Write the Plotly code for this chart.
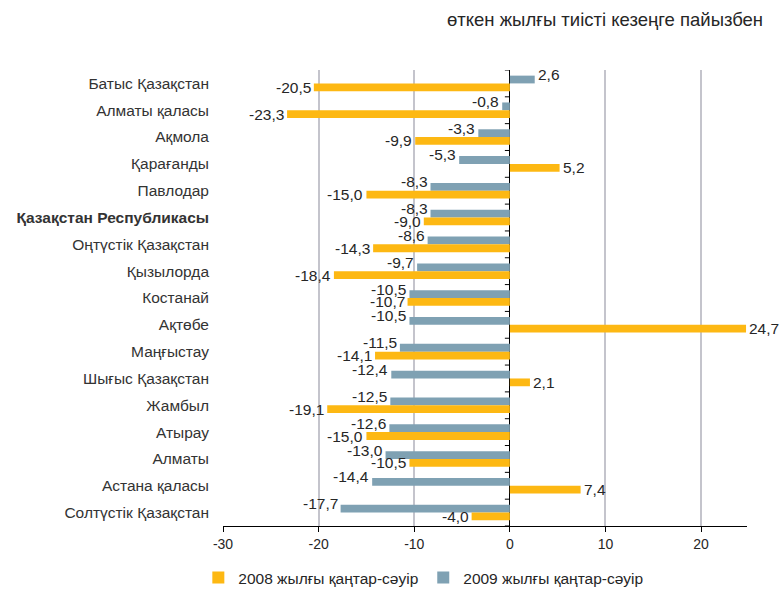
import plotly.graph_objects as go

categories = [
    "Батыс Қазақстан", "Алматы қаласы", "Ақмола", "Қарағанды", "Павлодар",
    "Қазақстан Республикасы", "Оңтүстік Қазақстан", "Қызылорда", "Костанай",
    "Ақтөбе", "Маңғыстау", "Шығыс Қазақстан", "Жамбыл", "Атырау", "Алматы",
    "Астана қаласы", "Солтүстік Қазақстан",
]
v2008 = [-20.5, -23.3, -9.9, 5.2, -15.0, -9.0, -14.3, -18.4, -10.7, 24.7,
         -14.1, 2.1, -19.1, -15.0, -10.5, 7.4, -4.0]
v2009 = [2.6, -0.8, -3.3, -5.3, -8.3, -8.3, -8.6, -9.7, -10.5, -10.5,
         -11.5, -12.4, -12.5, -12.6, -13.0, -14.4, -17.7]
name2008 = "2008 жылғы қаңтар-сәуір"
name2009 = "2009 жылғы қаңтар-сәуір"
bold_category = "Қазақстан Республикасы"
x_tickvals = [-30, -20, -10, 0, 10, 20]
x_ticktext = ["-30", "-20", "-10", "0", "10", "20"]
title_text = "өткен жылғы тиісті кезеңге пайызбен"

ORANGE = "#FDB813"
BLUE = "#7FA1B3"
FONT = "Liberation Sans, Arial, sans-serif"
TXT = "#262626"
BARGAP = 0.42

def fmt(v):
    return f"{v:.1f}".replace(".", ",")

n = len(categories)
idx = list(range(n))
ticktext = [f"<b>{c}</b>" if c == bold_category else c for c in categories]

fig = go.Figure()
fig.add_trace(go.Bar(y=idx, x=v2009, orientation="h", name=name2009,
                     marker=dict(color=BLUE, line=dict(width=0)), legendrank=2))
fig.add_trace(go.Bar(y=idx, x=v2008, orientation="h", name=name2008,
                     marker=dict(color=ORANGE, line=dict(width=0)), legendrank=1))

bw = (1 - BARGAP) / 2
annotations = []
for i in idx:
    for vals, off, ysh in ((v2009, -bw / 2, 5), (v2008, bw / 2, 0)):
        v = vals[i]
        annotations.append(dict(
            x=v, y=i + off, xref="x", yref="y", text=fmt(v), showarrow=False,
            xanchor="left" if v > 0 else "right", xshift=1 if v > 0 else -1,
            yshift=ysh, font=dict(size=15.5, color=TXT, family=FONT)))

annotations.append(dict(x=1.034, y=1.11, xref="paper", yref="paper", text=title_text,
                        showarrow=False, xanchor="right", yanchor="middle",
                        font=dict(size=18.5, color=TXT, family=FONT)))

shapes = []
for k in range(n + 1):
    shapes.append(dict(type="line", xref="x", xsizemode="pixel", xanchor=0, x0=-5, x1=0,
                       yref="y", y0=k - 0.5, y1=k - 0.5, line=dict(color="black", width=1)))

fig.update_layout(
    width=779, height=590,
    margin=dict(l=223, r=32, t=70, b=64, autoexpand=False),
    paper_bgcolor="white", plot_bgcolor="white",
    barmode="group", bargap=BARGAP, bargroupgap=0,
    font=dict(family=FONT, color=TXT),
    annotations=annotations, shapes=shapes,
    showlegend=True,
    legend=dict(orientation="h", xref="container", yref="container",
                x=0.2546, y=0.0203, xanchor="left", yanchor="middle",
                font=dict(size=15.5, color=TXT, family=FONT), bgcolor="rgba(0,0,0,0)"),
    xaxis=dict(range=[-30, 24.8], tickvals=x_tickvals, ticktext=x_ticktext,
               showgrid=True, gridcolor="#C4C4CC", gridwidth=2,
               zeroline=True, zerolinecolor="black", zerolinewidth=1,
               showline=True, linecolor="black", linewidth=1,
               ticks="outside", ticklen=5, tickcolor="black", automargin=False,
               tickfont=dict(size=14, color=TXT, family=FONT)),
    yaxis=dict(range=[n - 0.5, -0.5], tickvals=idx, ticktext=ticktext,
               showgrid=False, zeroline=False, showline=False, ticks="",
               ticklabelstandoff=13, automargin=False,
               tickfont=dict(size=15.5, color="#333333", family=FONT)),
)

fig.write_html("out.html", config={"displayModeBar": False},
               post_script="document.body.style.margin='0';document.body.style.overflow='hidden';")
